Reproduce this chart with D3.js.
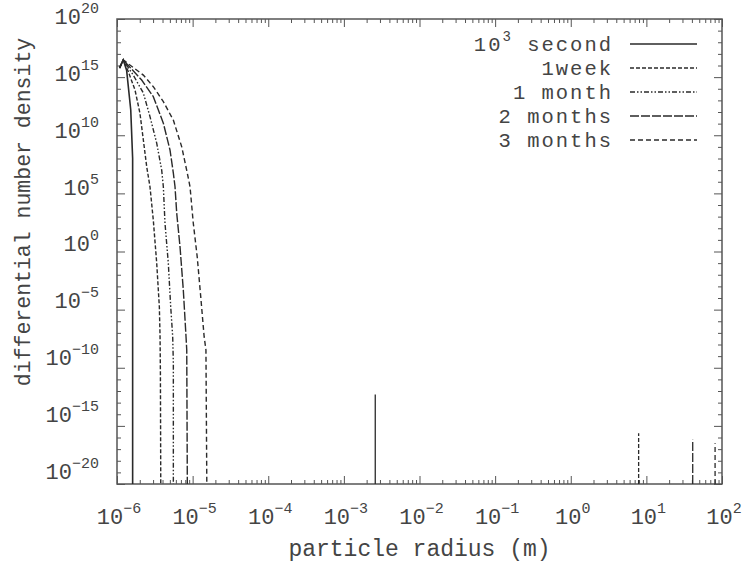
<!DOCTYPE html>
<html>
<head>
<meta charset="utf-8">
<script src="https://cdn.jsdelivr.net/npm/d3@7"></script>
<style>
  body { margin: 0; background: #fff; }
  text { font-family: "Liberation Mono", "Courier New", monospace; fill: #444; }
</style>
</head>
<body>
<svg id="chart" width="748" height="564"></svg>
<script>
// legend labels, '^' marks a superscript
const seriesNames = ['10^3 second', '1week', '1 month', '2 months', '3 months'];
const seriesDash = [null, '4,2', '5,2,1.5,2,1.5,2', '9,2', '5,3'];

// particle radius (m) / differential number density
const radius1e3s = [1.08e-6, 1.21e-6, 1.34e-6, 1.52e-6, 1.61e-6, 1.61e-6];
const density1e3s = [6e15, 3e16, 4e15, 1.5e12, 1e8, 1e-20];

const radius1wk = [1.08e-6, 1.21e-6, 1.41e-6, 1.73e-6, 2.01e-6, 2.23e-6, 2.47e-6, 2.73e-6, 3.02e-6, 3.35e-6, 3.63e-6, 3.71e-6, 3.75e-6, 3.79e-6];
const density1wk = [6e15, 3e16, 3e15, 7.8e13, 8e11, 3.9e9, 2e7, 3.7e5, 5e2, 1e-1, 1.8e-5, 4.7e-8, 3.5e-11, 1e-20];

const radius1mo = [1.08e-6, 1.21e-6, 1.64e-6, 2.23e-6, 2.73e-6, 3.35e-6, 3.9e-6, 4.1e-6, 4.31e-6, 4.77e-6, 5.13e-6, 5.45e-6, 5.56e-6, 5.56e-6];
const density1mo = [6e15, 3e16, 1.5e15, 4.3e13, 4e11, 2.1e9, 1e7, 3.7e5, 2.8e2, 1e-1, 1.8e-5, 4.7e-8, 2.6e-10, 1e-20];

const radius2mo = [1.08e-6, 1.21e-6, 2.12e-6, 3.02e-6, 4.1e-6, 5.02e-6, 5.56e-6, 5.85e-6, 6.16e-6, 6.81e-6, 7.53e-6, 8.18e-6, 8.36e-6, 8.51e-6];
const density2mo = [6e15, 3e16, 5.6e14, 2.1e13, 1.1e11, 5.4e8, 5.6e6, 3.7e5, 2e3, 2.6, 4.9e-4, 4.7e-8, 3.4e-9, 1e-20];

const radius3mo = [1.08e-6, 1.21e-6, 2.23e-6, 3.02e-6, 4.1e-6, 5.56e-6, 7.18e-6, 8.51e-6, 9.24e-6, 1.02e-5, 1.15e-5, 1.28e-5, 1.42e-5, 1.5e-5, 1.54e-5];
const density3mo = [6e15, 3e16, 1.5e15, 1.5e14, 7.8e12, 2e11, 1e9, 5.4e6, 3.7e5, 2.8e2, 0.35, 1.3e-4, 4.7e-8, 3.4e-9, 1e-20];

// isolated large particles (spikes from the floor)
const spikeRadius = [2.6e-3, 7.9, 41, 81];
const spikeDensity = [5e-13, 2.3e-16, 6.3e-17, 3.2e-17];
const spikeSeries = [0, 1, 3, 4];

const xTickExponents = [-6, -5, -4, -3, -2, -1, 0, 1, 2];
const yTickExponents = [-20, -15, -10, -5, 0, 5, 10, 15, 20];

const radii = [radius1e3s, radius1wk, radius1mo, radius2mo, radius3mo];
const densities = [density1e3s, density1wk, density1mo, density2mo, density3mo];

const width = 748, height = 564;
const margin = { top: 19, right: 26, bottom: 80, left: 117 };
const innerW = width - margin.left - margin.right;
const innerH = height - margin.top - margin.bottom;
const axisColor = '#555';
const lineColor = '#2a2a2a';

const svg = d3.select('#chart');
const g = svg.append('g').attr('transform', `translate(${margin.left},${margin.top})`);

const x = d3.scaleLog().domain([1e-6, 1e2]).range([0, innerW]);
const y = d3.scaleLog().domain([1e-20, 1e20]).range([innerH, 0]);

// tick positions
const xMajor = xTickExponents.map(e => Math.pow(10, e));
const xMinor = [];
xTickExponents.slice(0, -1).forEach(e => {
  for (let m = 2; m <= 9; m++) xMinor.push(m * Math.pow(10, e));
});
const yMajor = yTickExponents.map(e => Math.pow(10, e));
const yMinor = d3.range(-19, 20).filter(e => e % 5 !== 0).map(e => Math.pow(10, e));

function drawTicks(axisFn, scale, values, size, transform) {
  const a = g.append('g')
    .attr('transform', transform)
    .call(axisFn(scale).tickValues(values).tickSize(size).tickFormat(''));
  a.select('.domain').remove();
  a.selectAll('line').attr('stroke', axisColor).attr('stroke-width', 1);
}

drawTicks(d3.axisBottom, x, xMajor, -8, `translate(0,${innerH})`);
drawTicks(d3.axisBottom, x, xMinor, -4, `translate(0,${innerH})`);
drawTicks(d3.axisTop, x, xMajor, -8, 'translate(0,0)');
drawTicks(d3.axisTop, x, xMinor, -4, 'translate(0,0)');
drawTicks(d3.axisLeft, y, yMajor, -8, 'translate(0,0)');
drawTicks(d3.axisLeft, y, yMinor, -4, 'translate(0,0)');
drawTicks(d3.axisRight, y, yMajor, -8, `translate(${innerW},0)`);
drawTicks(d3.axisRight, y, yMinor, -4, `translate(${innerW},0)`);

// frame
g.append('rect')
  .attr('width', innerW).attr('height', innerH)
  .attr('fill', 'none').attr('stroke', axisColor).attr('stroke-width', 1.5);

// power-of-ten label helper
function powerLabel(sel, exp) {
  sel.append('tspan').text('10');
  sel.append('tspan').attr('dy', -11).attr('font-size', 15).text(String(exp).replace('-', '\u2212'));
}

xTickExponents.forEach(e => {
  const t = g.append('text')
    .attr('x', x(Math.pow(10, e)) + 2)
    .attr('y', innerH + 40)
    .attr('text-anchor', 'middle')
    .attr('font-size', 22);
  powerLabel(t, e);
});

// the original's y labels sit slightly tighter than its ticks
yTickExponents.forEach(e => {
  const t = g.append('text')
    .attr('x', -18)
    .attr('y', y(Math.pow(10, e)) * 0.978 + 5)
    .attr('text-anchor', 'end')
    .attr('font-size', 22);
  powerLabel(t, e);
});

// axis titles
svg.append('text')
  .attr('x', margin.left + innerW / 2)
  .attr('y', 556)
  .attr('text-anchor', 'middle')
  .attr('font-size', 23)
  .text('particle radius (m)');

svg.append('text')
  .attr('transform', 'translate(30,212) rotate(-90)')
  .attr('text-anchor', 'middle')
  .attr('font-size', 21.5)
  .text('differential number density');

// curves
const line = d3.line()
  .x(d => x(d[0]))
  .y(d => y(d[1]));

radii.forEach((rs, i) => {
  const pts = rs.map((r, j) => [r, densities[i][j]]);
  g.append('path')
    .datum(pts)
    .attr('d', line)
    .attr('fill', 'none')
    .attr('stroke', lineColor)
    .attr('stroke-width', i === 0 ? 1.6 : 1.4)
    .attr('stroke-dasharray', seriesDash[i]);
});

spikeRadius.forEach((r, i) => {
  g.append('line')
    .attr('x1', x(r)).attr('x2', x(r))
    .attr('y1', y(1e-20)).attr('y2', y(spikeDensity[i]))
    .attr('stroke', lineColor)
    .attr('stroke-width', 1.3)
    .attr('stroke-dasharray', seriesDash[spikeSeries[i]]);
});

// legend
const legend = svg.append('g');
seriesNames.forEach((name, i) => {
  const cy = 44 + i * 24;
  const t = legend.append('text')
    .attr('x', 613)
    .attr('y', cy + 7)
    .attr('text-anchor', 'end')
    .attr('font-size', 20.5)
    .attr('letter-spacing', 2);
  const parts = name.split('^');
  if (parts.length > 1) {
    t.append('tspan').text(parts[0]);
    const rest = parts[1].split(' ');
    t.append('tspan').attr('dy', -10).attr('font-size', 14).text(rest[0]);
    t.append('tspan').attr('dy', 10).text(' ' + rest.slice(1).join(' '));
  } else {
    t.text(name);
  }
  legend.append('line')
    .attr('x1', 630).attr('x2', 697)
    .attr('y1', cy).attr('y2', cy)
    .attr('stroke', lineColor)
    .attr('stroke-width', 1.3)
    .attr('stroke-dasharray', seriesDash[i]);
});
</script>
</body>
</html>
